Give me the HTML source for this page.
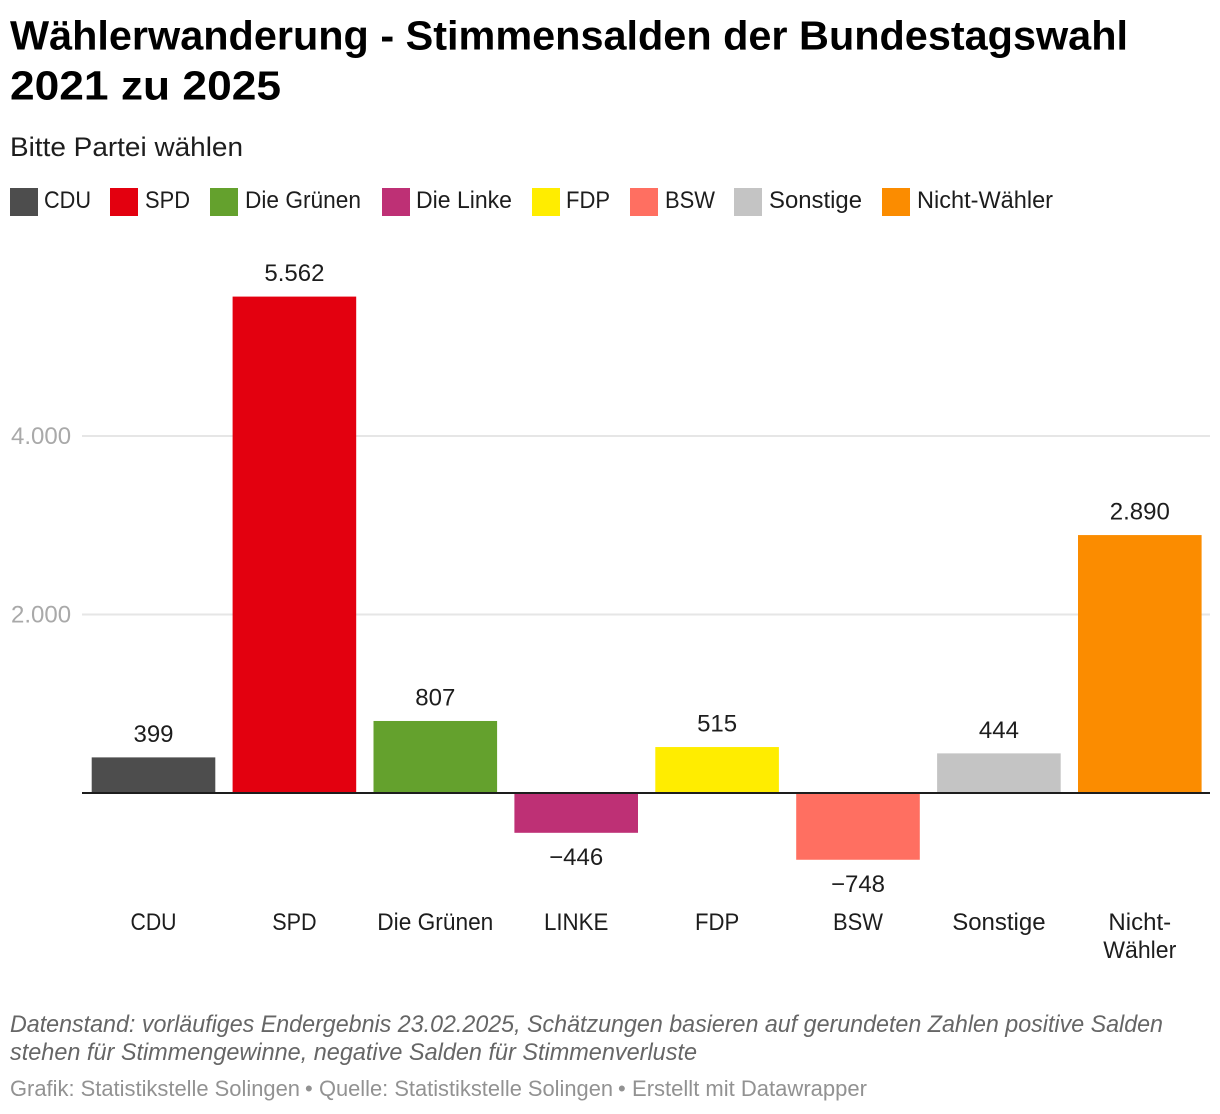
<!DOCTYPE html>
<html lang="de">
<head>
<meta charset="utf-8">
<title>Wählerwanderung - Stimmensalden der Bundestagswahl 2021 zu 2025</title>
<style>
html,body{margin:0;padding:0;background:#fff;width:1220px;height:1114px;overflow:hidden}
svg{display:block;font-family:"Liberation Sans",sans-serif}
.lg{font-size:24px;fill:#1d1d1d}
.val{font-size:24px;fill:#1d1d1d;text-anchor:middle}
.cat{font-size:24px;fill:#1d1d1d;text-anchor:middle}
.tick{font-size:24px;fill:#a9a9a9}
</style>
</head>
<body>
<svg id="chart" width="1220" height="1114" viewBox="0 0 1220 1114" xmlns="http://www.w3.org/2000/svg">
  <text x="10" y="49.5" font-size="41" font-weight="700" fill="#000" textLength="1118" lengthAdjust="spacingAndGlyphs">Wählerwanderung - Stimmensalden der Bundestagswahl</text>
  <text x="10" y="99.5" font-size="41" font-weight="700" fill="#000" textLength="271" lengthAdjust="spacingAndGlyphs">2021 zu 2025</text>
  <text x="10" y="156" font-size="27" fill="#1d1d1d" textLength="233" lengthAdjust="spacingAndGlyphs">Bitte Partei wählen</text>

  <g>
    <rect x="10" y="188" width="28" height="28" fill="#4d4d4d"/>
    <text class="lg" x="44" y="208" textLength="47" lengthAdjust="spacingAndGlyphs">CDU</text>
    <rect x="110" y="188" width="28" height="28" fill="#e3000f"/>
    <text class="lg" x="145" y="208" textLength="45" lengthAdjust="spacingAndGlyphs">SPD</text>
    <rect x="210" y="188" width="28" height="28" fill="#64a12d"/>
    <text class="lg" x="245" y="208" textLength="116" lengthAdjust="spacingAndGlyphs">Die Grünen</text>
    <rect x="382" y="188" width="28" height="28" fill="#be3075"/>
    <text class="lg" x="416" y="208" textLength="96" lengthAdjust="spacingAndGlyphs">Die Linke</text>
    <rect x="532" y="188" width="28" height="28" fill="#ffed00"/>
    <text class="lg" x="566" y="208" textLength="44" lengthAdjust="spacingAndGlyphs">FDP</text>
    <rect x="630" y="188" width="28" height="28" fill="#ff6f61"/>
    <text class="lg" x="665" y="208" textLength="50" lengthAdjust="spacingAndGlyphs">BSW</text>
    <rect x="734" y="188" width="28" height="28" fill="#c4c4c4"/>
    <text class="lg" x="769" y="208" textLength="93" lengthAdjust="spacingAndGlyphs">Sonstige</text>
    <rect x="882" y="188" width="28" height="28" fill="#fb8c00"/>
    <text class="lg" x="917" y="208" textLength="136" lengthAdjust="spacingAndGlyphs">Nicht-Wähler</text>
  </g>

  <g id="grid"></g>
  <g id="bars"></g>
  <line id="zero" x1="82" x2="1210" stroke="#1d1d1d" stroke-width="2"/>
  <g id="labels"></g>
  <g id="cats"></g>

  <text x="10" y="1032" font-size="24" font-style="italic" fill="#666" textLength="1153" lengthAdjust="spacingAndGlyphs">Datenstand: vorläufiges Endergebnis 23.02.2025, Schätzungen basieren auf gerundeten Zahlen positive Salden</text>
  <text x="10" y="1060" font-size="24" font-style="italic" fill="#666" textLength="687" lengthAdjust="spacingAndGlyphs">stehen für Stimmengewinne, negative Salden für Stimmenverluste</text>
  <g font-size="22" fill="#929292">
    <text x="10" y="1096" textLength="290" lengthAdjust="spacingAndGlyphs">Grafik: Statistikstelle Solingen</text>
    <text x="305" y="1096">•</text>
    <text x="319" y="1096" textLength="294" lengthAdjust="spacingAndGlyphs">Quelle: Statistikstelle Solingen</text>
    <text x="618" y="1096">•</text>
    <text x="632" y="1096" textLength="235" lengthAdjust="spacingAndGlyphs">Erstellt mit Datawrapper</text>
  </g>
</svg>
<script>
var categories = ["CDU", "SPD", "Die Grünen", "LINKE", "FDP", "BSW", "Sonstige", "Nicht-\nWähler"];
var values = [399, 5562, 807, -446, 515, -748, 444, 2890];
var colors = ["#4d4d4d", "#e3000f", "#64a12d", "#be3075", "#ffed00", "#ff6f61", "#c4c4c4", "#fb8c00"];
var yTicks = [2000, 4000];

var NS = "http://www.w3.org/2000/svg";
var plotLeft = 82, plotRight = 1210, zeroY = 793, pxPerUnit = 357 / 4000;
var firstCenter = 153.5, band = 140.9, barWidth = 123.6;
var labelFit = { "CDU": 0.885, "SPD": 0.9, "Die Grünen": 0.945, "LINKE": 0.93, "FDP": 0.92, "BSW": 0.915, "Sonstige": 1, "Nicht-": 1, "Wähler": 0.96 };
function yScale(v) { return zeroY - v * pxPerUnit; }
function xCenter(i) { return firstCenter + i * band; }
function fmt(v) {
  var s = String(Math.abs(v)).replace(/\B(?=(\d{3})+$)/g, ".");
  return (v < 0 ? "\u2212" : "") + s;
}
function make(tag, parentId) {
  var el = document.createElementNS(NS, tag);
  document.getElementById(parentId).appendChild(el);
  return el;
}

document.getElementById("zero").setAttribute("y1", zeroY);
document.getElementById("zero").setAttribute("y2", zeroY);

yTicks.forEach(function (t) {
  var ln = make("line", "grid");
  
  
  ln.setAttribute("x1", plotLeft);
  ln.setAttribute("x2", plotRight);
  ln.setAttribute("y1", yScale(t));
  ln.setAttribute("y2", yScale(t));
  ln.setAttribute("stroke", "#e6e6e6");
  ln.setAttribute("stroke-width", "2");
  var tx = make("text", "grid");
  
  
  tx.setAttribute("class", "tick");
  tx.setAttribute("x", 11);
  tx.setAttribute("y", yScale(t) + 8);
  tx.textContent = fmt(t);
});

values.forEach(function (v, i) {
  var cx = xCenter(i);
  var r = make("rect", "bars");
  
  
  r.setAttribute("x", cx - barWidth / 2);
  r.setAttribute("width", barWidth);
  r.setAttribute("y", Math.min(yScale(v), zeroY));
  r.setAttribute("height", Math.abs(yScale(v) - zeroY));
  r.setAttribute("fill", colors[i]);

  var t = make("text", "labels");
  
  
  t.setAttribute("class", "val");
  t.setAttribute("x", cx);
  t.setAttribute("y", v >= 0 ? yScale(v) - 15.5 : yScale(v) + 32.3);
  t.textContent = fmt(v);

  categories[i].split("\n").forEach(function (part, k) {
    var c = make("text", "cats");
    
    
    c.setAttribute("class", "cat");
    c.setAttribute("x", cx);
    c.setAttribute("y", 930 + k * 28);
    c.textContent = part;
    c.setAttribute("textLength", (c.getComputedTextLength() * (labelFit[part] || 1)).toFixed(1));
    c.setAttribute("lengthAdjust", "spacingAndGlyphs");
  });
});
</script>
</body>
</html>
